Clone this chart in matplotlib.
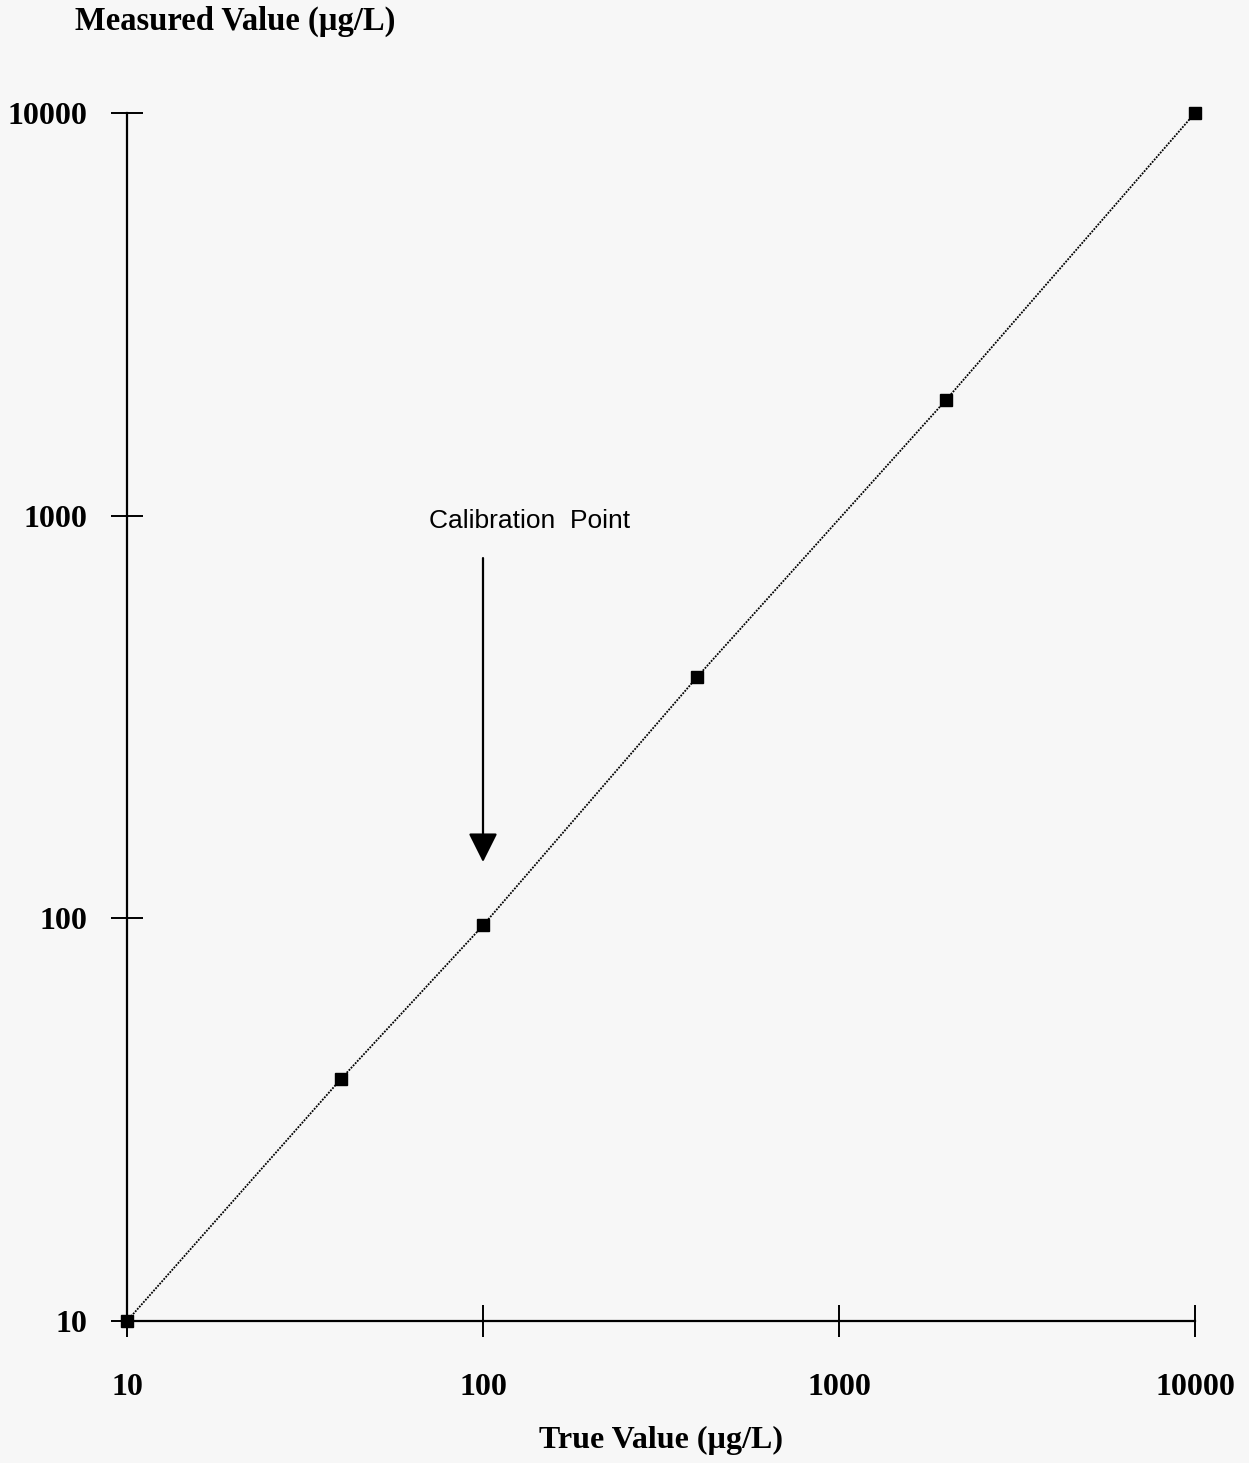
import matplotlib
matplotlib.use("Agg")
import matplotlib.pyplot as plt

# values
true_vals = [10, 40, 100, 400, 2000, 10000]
measured_vals = [10, 40, 96, 398, 1940, 10000]
tick_vals = [10, 100, 1000, 10000]
tick_labels = ["10", "100", "1000", "10000"]
calib_x = 100

W, H = 1249, 1463
BG = "#f7f7f7"
SERIF = "Liberation Serif"
SANS = "Liberation Sans"

fig = plt.figure(figsize=(W / 100, H / 100), dpi=100, facecolor=BG)
ax = fig.add_axes([127 / W, 1 - 1321 / H, (1195 - 127) / W, (1321 - 113) / H])
ax.set_facecolor(BG)
ax.set_xscale("log")
ax.set_yscale("log")
ax.set_xlim(10, 10000)
ax.set_ylim(10, 10000)

ax.plot(true_vals, measured_vals, color="black", lw=1.3, ls=(0, (1.0, 0.7)),
        marker="s", ms=8, mfc="black", mec="black", clip_on=False, zorder=3)

for side in ("top", "right"):
    ax.spines[side].set_visible(False)
for side in ("left", "bottom"):
    ax.spines[side].set_linewidth(1.6)
    ax.spines[side].set_color("black")

ax.set_xticks(tick_vals)
ax.set_xticklabels(tick_labels)
ax.set_yticks(tick_vals)
ax.set_yticklabels(tick_labels)
ax.minorticks_off()
ax.tick_params(axis="both", direction="inout", length=23, width=1.4, color="black")
ax.tick_params(axis="x", pad=26)
ax.tick_params(axis="y", pad=17)
for lab in ax.get_xticklabels() + ax.get_yticklabels():
    lab.set_fontfamily(SERIF)
    lab.set_fontweight("bold")
    lab.set_fontsize(23)

fig.text(75 / W, 1 - 21 / H, "Measured Value (\u00b5g/L)", ha="left", va="center",
         family=SERIF, weight="bold", fontsize=23.5)
fig.text(661 / W, 1 - 1440 / H, "True Value (\u00b5g/L)", ha="center", va="center",
         family=SERIF, weight="bold", fontsize=23)

# arrow pointing at the calibration point
ax.annotate("", xy=(calib_x, 10 ** (1 + (1321 - 862) / 402.7)),
            xytext=(calib_x, 10 ** (1 + (1321 - 558) / 402.7)),
            arrowprops=dict(arrowstyle="-|>,head_length=1.8,head_width=0.9",
                            color="black", lw=1.6, shrinkA=0, shrinkB=0))
ax.text(10 ** (1 + (530 - 127) / 356), 10 ** (1 + (1321 - 521) / 402.7),
        "Calibration  Point", ha="center", va="center", family=SANS, fontsize=19)

fig.savefig("out.png", dpi=100, facecolor=BG)
